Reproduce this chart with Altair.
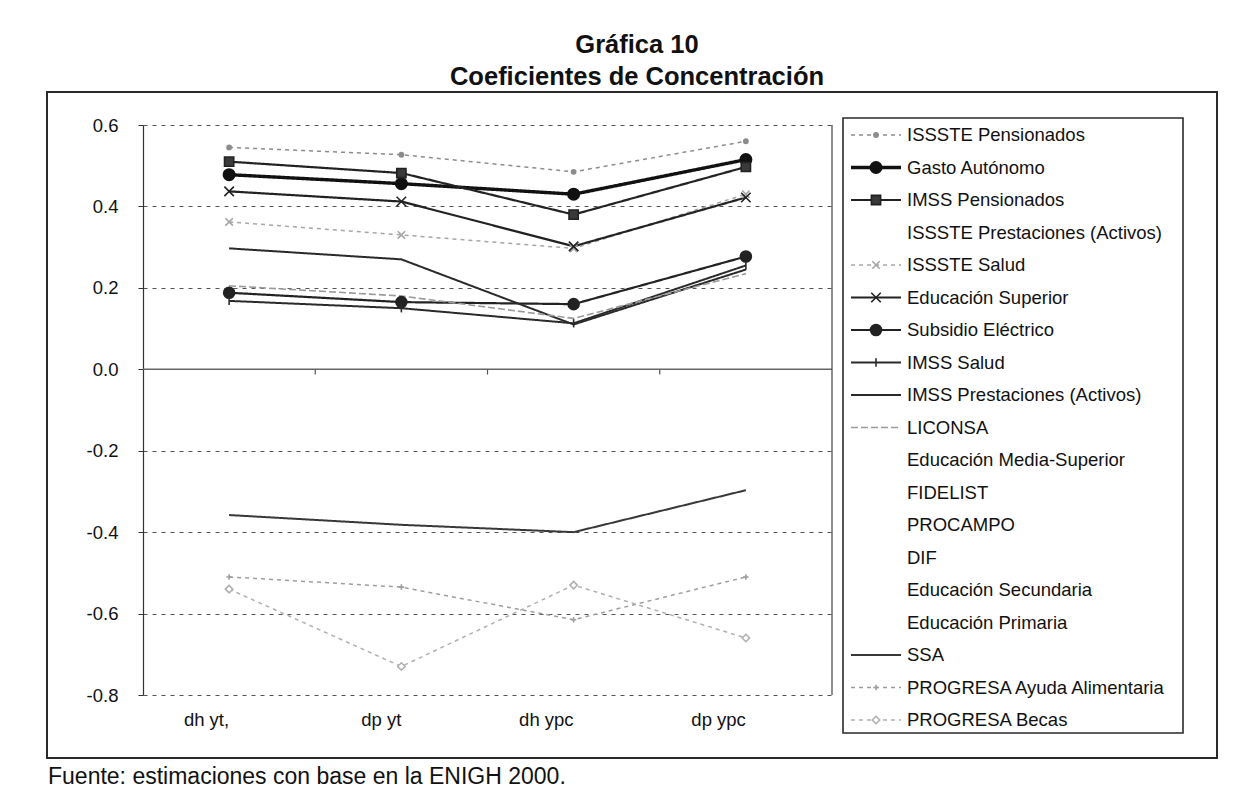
import altair as alt
import pandas as pd

# ---------------- data ----------------
categories = ["dh yt,", "dp yt", "dh ypc", "dp ypc"]

series_names = [
    "ISSSTE Pensionados",
    "Gasto Autónomo",
    "IMSS Pensionados",
    "ISSSTE Prestaciones (Activos)",
    "ISSSTE Salud",
    "Educación Superior",
    "Subsidio Eléctrico",
    "IMSS Salud",
    "IMSS Prestaciones (Activos)",
    "LICONSA",
    "Educación Media-Superior",
    "FIDELIST",
    "PROCAMPO",
    "DIF",
    "Educación Secundaria",
    "Educación Primaria",
    "SSA",
    "PROGRESA Ayuda Alimentaria",
    "PROGRESA Becas",
]

issste_pensionados = [0.545, 0.527, 0.485, 0.560]
gasto_autonomo = [0.478, 0.456, 0.430, 0.515]
imss_pensionados = [0.510, 0.482, 0.380, 0.497]
issste_salud = [0.362, 0.330, 0.297, 0.430]
educacion_superior = [0.437, 0.412, 0.302, 0.422]
subsidio_electrico = [0.188, 0.165, 0.160, 0.277]
imss_salud = [0.168, 0.150, 0.113, 0.255]
imss_prestaciones = [0.297, 0.270, 0.110, 0.245]
liconsa = [0.205, 0.180, 0.125, 0.235]
ssa = [-0.358, -0.382, -0.400, -0.297]
progresa_ayuda = [-0.510, -0.535, -0.615, -0.510]
progresa_becas = [-0.540, -0.730, -0.530, -0.660]

values_by_series = {
    "ISSSTE Pensionados": issste_pensionados,
    "Gasto Autónomo": gasto_autonomo,
    "IMSS Pensionados": imss_pensionados,
    "ISSSTE Salud": issste_salud,
    "Educación Superior": educacion_superior,
    "Subsidio Eléctrico": subsidio_electrico,
    "IMSS Salud": imss_salud,
    "IMSS Prestaciones (Activos)": imss_prestaciones,
    "LICONSA": liconsa,
    "SSA": ssa,
    "PROGRESA Ayuda Alimentaria": progresa_ayuda,
    "PROGRESA Becas": progresa_becas,
}

y_ticks = [-0.8, -0.6, -0.4, -0.2, 0.0, 0.2, 0.4, 0.6]

# ---------------- styles (per series, legend order) ----------------
HID = "transparent"
line_colors = ["#8c8c8c", "#111111", "#222222", HID, "#a6a6a6", "#222222", "#222222",
               "#2a2a2a", "#2a2a2a", "#9a9a9a", HID, HID, HID, HID, HID, HID,
               "#383838", "#9e9e9e", "#b0b0b0"]
line_dashes = [[4, 4], [1, 0], [1, 0], [1, 0], [4, 4], [1, 0], [1, 0],
               [1, 0], [1, 0], [7, 3], [1, 0], [1, 0], [1, 0], [1, 0], [1, 0], [1, 0],
               [1, 0], [4, 4], [4, 4]]
line_widths = [1.5, 3.4, 2.2, 1, 1.5, 2.2, 2.2,
               2, 2, 1.6, 1, 1, 1, 1, 1, 1,
               2, 1.5, 1.5]
XPATH = "M-1,-1L1,1M-1,1L1,-1"
VBAR = "M0,-1L0,1"
PLUS = "M-1,0L1,0M0,-1L0,1"
marker_shapes = ["circle", "circle", "square", "circle", XPATH, XPATH, "circle",
                 VBAR, "circle", "circle", "circle", "circle", "circle", "circle", "circle", "circle",
                 "circle", PLUS, "diamond"]
marker_sizes = [18, 130, 85, 0, 55, 90, 120,
                70, 0, 0, 0, 0, 0, 0, 0, 0,
                0, 30, 55]
marker_fills = ["#8c8c8c", "#111111", "#3a3a3a", HID, "#a6a6a6", "#222222", "#222222",
                "#2a2a2a", "#2a2a2a", "#9a9a9a", HID, HID, HID, HID, HID, HID,
                "#383838", "#9e9e9e", "#ffffff"]

FONT = "Liberation Sans"
W, H = 689, 570

# ---------------- tables ----------------
rows = []
for name in series_names:
    if name in values_by_series:
        for cat, val in zip(categories, values_by_series[name]):
            rows.append({"series": name, "cat": cat, "value": val})
df = pd.DataFrame(rows)
legend_df = pd.DataFrame({"series": series_names})
one = pd.DataFrame({"k": [0]})
zero_df = pd.DataFrame({"v": [0.0]})
tick_df = pd.DataFrame({"cat": categories[1:], "top": [0.0] * 3, "bot": [-0.013] * 3})

color_scale = alt.Scale(domain=series_names, range=line_colors)
dash_scale = alt.Scale(domain=series_names, range=line_dashes)
width_scale = alt.Scale(type="ordinal", domain=series_names, range=line_widths)
shape_scale = alt.Scale(domain=series_names, range=marker_shapes)
size_scale = alt.Scale(type="ordinal", domain=series_names, range=marker_sizes)
fill_scale = alt.Scale(domain=series_names, range=marker_fills)
stroke_scale = alt.Scale(domain=series_names, range=line_colors)

x_enc = alt.X(
    "cat:N", sort=categories, scale=alt.Scale(domain=categories),
    axis=alt.Axis(title=None, domain=False, ticks=False, grid=False, labelAngle=0,
                  labelPadding=24, labelFontSize=18.5, labelFont=FONT, labelColor="#111"),
)
y_enc = alt.Y(
    "value:Q", scale=alt.Scale(domain=[-0.8, 0.6], nice=False, zero=False),
    axis=alt.Axis(title=None, values=y_ticks, format=".1f",
                  labelExpr="replace(datum.label, '\u2212', '-')",
                  grid=True, gridDash=[4, 5], gridColor="#555", gridWidth=1,
                  domain=True, domainColor="#333", domainWidth=1.2,
                  tickSize=5, tickColor="#333", labelPadding=20,
                  labelFontSize=18.5, labelFont=FONT, labelColor="#111"),
)

zero_line = alt.Chart(zero_df).mark_rule(color="#666", strokeWidth=1.6).encode(
    y=alt.Y("v:Q"))
zero_ticks = alt.Chart(tick_df).mark_rule(color="#555", strokeWidth=1.2, xOffset=-W / 8).encode(
    x=alt.X("cat:N", sort=categories), y=alt.Y("top:Q"), y2="bot:Q")
right_border = alt.Chart(one).mark_rule(color="#444", strokeWidth=1.2).encode(
    x=alt.value(W), y=alt.value(0), y2=alt.value(H))

lines = alt.Chart(df).mark_line().encode(
    x=x_enc, y=y_enc,
    color=alt.Color("series:N", scale=color_scale, legend=None),
    strokeDash=alt.StrokeDash("series:N", scale=dash_scale, legend=None),
    strokeWidth=alt.StrokeWidth("series:N", scale=width_scale, legend=None),
    detail="series:N",
)
points = alt.Chart(df).mark_point(filled=True, strokeWidth=1.6, opacity=1).encode(
    x=alt.X("cat:N", sort=categories), y="value:Q",
    fill=alt.Fill("series:N", scale=fill_scale, legend=None),
    stroke=alt.Stroke("series:N", scale=stroke_scale, legend=None),
    shape=alt.Shape("series:N", scale=shape_scale, legend=None),
    size=alt.Size("series:N", scale=size_scale, legend=None),
)

data_layer = alt.layer(zero_line, zero_ticks, right_border, lines, points)

# ---------------- legend & frame ----------------
ly = alt.Y("series:N", sort=series_names,
           scale=alt.Scale(type="point", domain=series_names, range=[10, 595], padding=0),
           axis=None)
outer_box = alt.Chart(one).mark_rect(fill="transparent", stroke="#2a2a2a", strokeWidth=2).encode(
    x=alt.value(-96), x2=alt.value(1074), y=alt.value(-33), y2=alt.value(633))
legend_box = alt.Chart(one).mark_rect(fill="transparent", stroke="#2a2a2a", strokeWidth=1.6).encode(
    x=alt.value(700), x2=alt.value(1040), y=alt.value(-7), y2=alt.value(608))
leg_lines = alt.Chart(legend_df).mark_rule().encode(
    x=alt.value(708), x2=alt.value(758), y=ly,
    color=alt.Color("series:N", scale=color_scale, legend=None),
    strokeDash=alt.StrokeDash("series:N", scale=dash_scale, legend=None),
    strokeWidth=alt.StrokeWidth("series:N", scale=width_scale, legend=None),
)
leg_points = alt.Chart(legend_df).mark_point(filled=True, strokeWidth=1.6, opacity=1).encode(
    x=alt.value(733), y=ly,
    fill=alt.Fill("series:N", scale=fill_scale, legend=None),
    stroke=alt.Stroke("series:N", scale=stroke_scale, legend=None),
    shape=alt.Shape("series:N", scale=shape_scale, legend=None),
    size=alt.Size("series:N", scale=size_scale, legend=None),
)
leg_text = alt.Chart(legend_df).mark_text(
    align="left", baseline="middle", font=FONT, fontSize=18.5, color="#111").encode(
    x=alt.value(764), y=ly, text="series:N")
title1 = alt.Chart(one).mark_text(
    text="Gráfica 10", font=FONT, fontSize=25.5, fontWeight="bold", color="#111",
    align="center", baseline="middle").encode(x=alt.value(494), y=alt.value(-80))
title2 = alt.Chart(one).mark_text(
    text="Coeficientes de Concentración", font=FONT, fontSize=25.5, fontWeight="bold",
    color="#111", align="center", baseline="middle").encode(x=alt.value(494), y=alt.value(-48))
footer = alt.Chart(one).mark_text(
    text="Fuente: estimaciones con base en la ENIGH 2000.", font=FONT, fontSize=23,
    color="#111", align="left", baseline="middle").encode(x=alt.value(-95), y=alt.value(652))

legend_layer = alt.layer(outer_box, legend_box, leg_lines, leg_points, leg_text,
                         title1, title2, footer)

chart = (
    alt.layer(data_layer, legend_layer)
    .resolve_scale(y="independent")
    .properties(
        width=W, height=H,
        autosize=alt.AutoSizeParams(type="none"),
        padding={"left": 135, "top": 117, "right": 392, "bottom": 100},
        background="white",
    )
    .configure_view(stroke=None)
)

chart.save("out.html", embed_options={"renderer": "svg", "actions": False})
